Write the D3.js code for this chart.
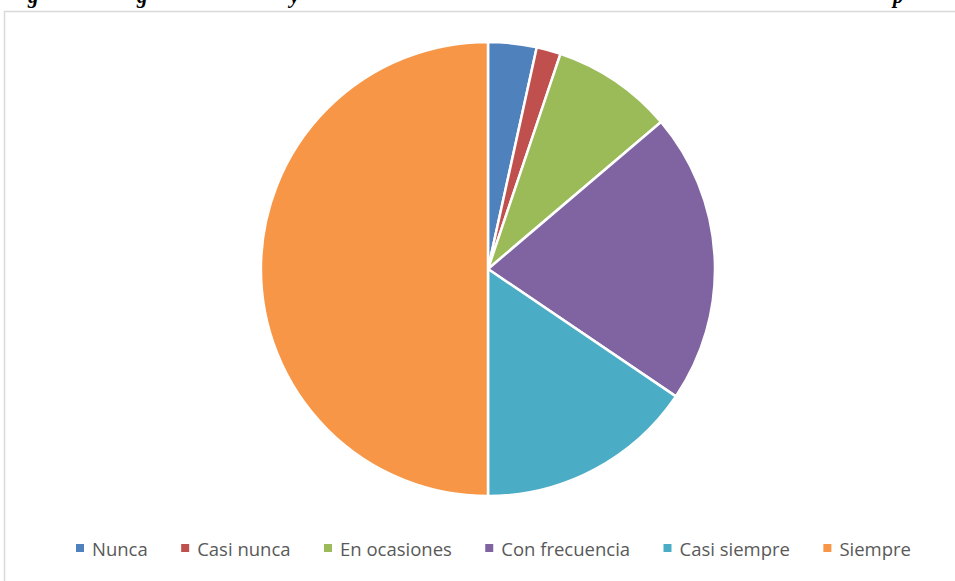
<!DOCTYPE html>
<html>
<head>
<meta charset="utf-8">
<script src="https://cdn.jsdelivr.net/npm/d3@7"></script>
<style>
  body { margin: 0; background: #fff; }
  svg { display: block; }
</style>
</head>
<body>
<div id="chart"></div>
<script>
var categories = ["Nunca", "Casi nunca", "En ocasiones", "Con frecuencia", "Casi siempre", "Siempre"];
var values = [2, 1, 5, 12, 9, 29];
var colors = ["#4F81BD", "#C0504D", "#9BBB59", "#8064A2", "#4BACC6", "#F79646"];
// cut-off heading above the chart frame: only descenders show
var titleGlyphs = [{ ch: "g", x: 28 }, { ch: "g", x: 137 }, { ch: "y", x: 290 }, { ch: "p", x: 893 }];

function init() {
    var width = 955, height = 581;

    var svg = d3.select("#chart")
        .append("svg")
        .attr("width", width)
        .attr("height", height);

    // heading glyphs (baseline sits above the visible area)
    svg.selectAll(".title-glyph")
        .data(titleGlyphs)
        .enter().append("text")
        .attr("class", "title-glyph")
        .attr("x", function (d) { return d.x; })
        .attr("y", 3)
        .style("font-family", "Liberation Serif")
        .style("font-weight", "bold")
        .style("font-style", "italic")
        .style("font-size", "21px")
        .style("fill", "#000")
        .text(function (d) { return d.ch; });

    // chart frame
    svg.append("rect")
        .attr("x", 4.5)
        .attr("y", 11.5)
        .attr("width", 1000)
        .attr("height", 700)
        .style("fill", "none")
        .style("stroke", "#d9d9d9")
        .style("stroke-width", 1.5);

    var cx = 488, cy = 269, r = 227;

    var pie = d3.pie().sort(null).value(function (d) { return d; });
    var arc = d3.arc().innerRadius(0).outerRadius(r);

    var g = svg.append("g")
        .attr("transform", "translate(" + cx + "," + cy + ")");

    g.selectAll("path")
        .data(pie(values))
        .enter().append("path")
        .attr("d", arc)
        .style("fill", function (d, i) { return colors[i]; })
        .style("stroke", "#fff")
        .style("stroke-width", 2.5)
        .style("stroke-linejoin", "round");

    // legend, laid out left to right between the first marker and the last label end
    var legend = svg.append("g").attr("class", "legend");
    var items = legend.selectAll(".item")
        .data(categories)
        .enter().append("g")
        .attr("class", "item");

    items.append("rect")
        .attr("width", 8)
        .attr("height", 8)
        .attr("y", -12)
        .style("fill", function (d, i) { return colors[i]; });

    var labels = items.append("text")
        .attr("x", 16)
        .attr("y", 0)
        .style("font-family", "Open Sans")
        .style("font-size", "18.5px")
        .style("fill", "#595959")
        .text(function (d) { return d; });

    var widths = [];
    labels.each(function () { widths.push(16 + this.getComputedTextLength()); });
    var start = 76, end = 911;
    var total = d3.sum(widths);
    var gap = (end - start - total) / (categories.length - 1);
    var pos = start;
    var xs = widths.map(function (w) { var p = pos; pos += w + gap; return p; });

    items.attr("transform", function (d, i) { return "translate(" + xs[i] + ",556)"; });
}

window.onload = init;
</script>
</body>
</html>
